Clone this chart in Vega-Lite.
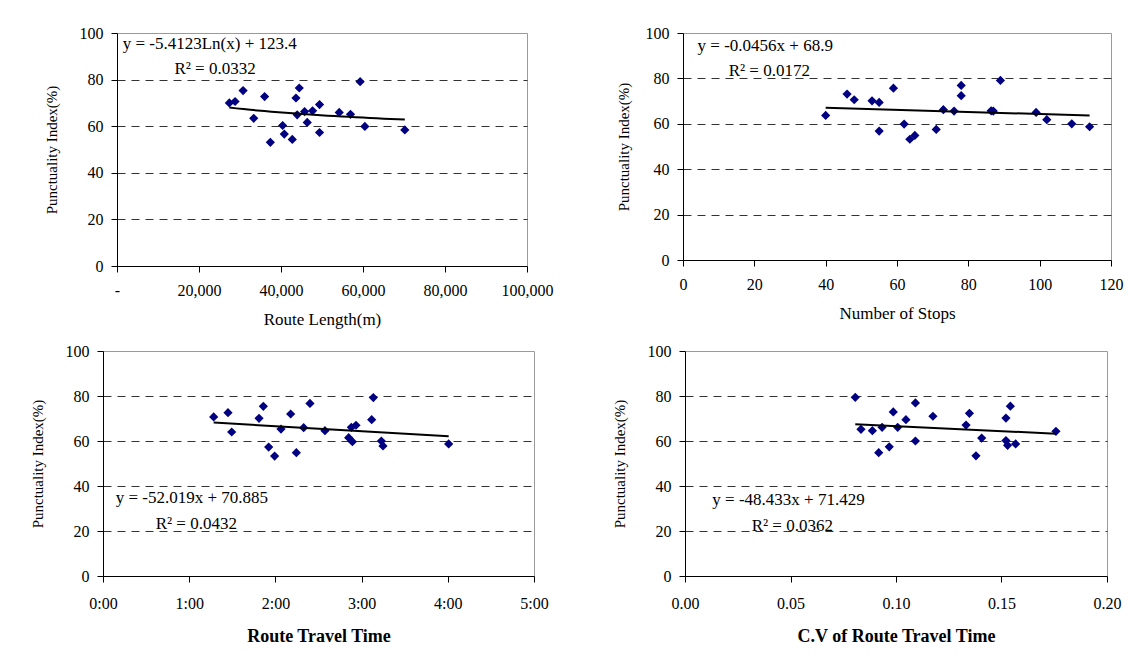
{
  "$schema": "https://vega.github.io/schema/vega-lite/v6.json",
  "padding": {"left": 28, "top": 24, "right": 0, "bottom": 0},
  "background": "white",
  "config": {
    "font": "Liberation Serif",
    "view": {"stroke": "#9a9a9a"},
    "axis": {
      "domainColor": "black", "tickColor": "black", "labelColor": "black", "titleColor": "black",
      "labelFont": "Liberation Serif", "titleFont": "Liberation Serif", "labelFontSize": 16,
      "tickSize": 6, "grid": false, "labelFlush": false, "labelOverlap": false
    },
    "text": {"font": "Liberation Serif", "fontSize": 17, "align": "left", "baseline": "middle", "color": "black"}
  },
  "datasets": {
    "length": [
      {"length": 27400, "pi": 70.0}, {"length": 28800, "pi": 70.6}, {"length": 30750, "pi": 75.3},
      {"length": 33350, "pi": 63.4}, {"length": 36000, "pi": 72.7}, {"length": 37400, "pi": 53.1},
      {"length": 40400, "pi": 60.3}, {"length": 40800, "pi": 56.6}, {"length": 42750, "pi": 54.3},
      {"length": 43650, "pi": 72.1}, {"length": 44450, "pi": 76.4}, {"length": 43950, "pi": 64.9},
      {"length": 45750, "pi": 66.3}, {"length": 46400, "pi": 61.6}, {"length": 47700, "pi": 66.6},
      {"length": 49400, "pi": 69.3}, {"length": 49400, "pi": 57.3}, {"length": 54200, "pi": 65.9},
      {"length": 56950, "pi": 65.1}, {"length": 59300, "pi": 79.1}, {"length": 60450, "pi": 59.9},
      {"length": 70200, "pi": 58.4}
    ],
    "stops": [
      {"stops": 40, "pi": 63.7}, {"stops": 46, "pi": 73.1}, {"stops": 48, "pi": 70.6},
      {"stops": 53, "pi": 70.1}, {"stops": 55, "pi": 69.4}, {"stops": 55, "pi": 56.8},
      {"stops": 59, "pi": 75.7}, {"stops": 62, "pi": 59.9}, {"stops": 63.6, "pi": 53.2},
      {"stops": 65, "pi": 54.9}, {"stops": 71, "pi": 57.5}, {"stops": 73, "pi": 66.2},
      {"stops": 76, "pi": 65.6}, {"stops": 78, "pi": 76.9}, {"stops": 78, "pi": 72.4},
      {"stops": 86.4, "pi": 65.7}, {"stops": 87, "pi": 65.6}, {"stops": 89, "pi": 79.1},
      {"stops": 99, "pi": 65.0}, {"stops": 102, "pi": 61.8}, {"stops": 109, "pi": 60.0},
      {"stops": 114, "pi": 58.7}
    ],
    "time": [
      {"hours": 1.284, "pi": 70.7}, {"hours": 1.450, "pi": 72.6}, {"hours": 1.493, "pi": 64.0},
      {"hours": 1.810, "pi": 70.1}, {"hours": 1.860, "pi": 75.4}, {"hours": 1.922, "pi": 57.3},
      {"hours": 1.991, "pi": 53.3}, {"hours": 2.065, "pi": 65.3}, {"hours": 2.177, "pi": 72.0},
      {"hours": 2.243, "pi": 54.8}, {"hours": 2.328, "pi": 65.9}, {"hours": 2.401, "pi": 76.7},
      {"hours": 2.575, "pi": 64.6}, {"hours": 2.850, "pi": 61.5}, {"hours": 2.893, "pi": 59.7},
      {"hours": 2.881, "pi": 66.1}, {"hours": 2.935, "pi": 67.0}, {"hours": 3.117, "pi": 69.5},
      {"hours": 3.136, "pi": 79.3}, {"hours": 3.229, "pi": 60.0}, {"hours": 3.248, "pi": 57.8},
      {"hours": 4.010, "pi": 58.7}
    ],
    "cv": [
      {"cv": 0.0807, "pi": 79.4}, {"cv": 0.0834, "pi": 65.2}, {"cv": 0.0888, "pi": 64.6},
      {"cv": 0.0934, "pi": 66.1}, {"cv": 0.0918, "pi": 54.8}, {"cv": 0.0968, "pi": 57.4},
      {"cv": 0.0987, "pi": 72.9}, {"cv": 0.1008, "pi": 66.1}, {"cv": 0.1047, "pi": 69.5},
      {"cv": 0.1092, "pi": 76.9}, {"cv": 0.1092, "pi": 60.0}, {"cv": 0.1175, "pi": 71.0},
      {"cv": 0.1332, "pi": 67.1}, {"cv": 0.1348, "pi": 72.3}, {"cv": 0.1379, "pi": 53.4},
      {"cv": 0.1406, "pi": 61.3}, {"cv": 0.1521, "pi": 70.2}, {"cv": 0.1542, "pi": 75.5},
      {"cv": 0.1521, "pi": 60.2}, {"cv": 0.1529, "pi": 58.1}, {"cv": 0.1567, "pi": 58.7},
      {"cv": 0.1758, "pi": 64.3}
    ],
    "eq": [
      {"e1": "y = -5.4123Ln(x) + 123.4", "r1": "R² = 0.0332",
       "e2": "y = -0.0456x + 68.9", "r2": "R² = 0.0172",
       "e3": "y = -52.019x + 70.885", "r3": "R² = 0.0432",
       "e4": "y = -48.433x + 71.429", "r4": "R² = 0.0362"}
    ]
  },
  "columns": 1,
  "align": "none",
  "spacing": {"row": 14, "column": 20},
  "concat": [
    {
      "hconcat": [
        {
          "hconcat": [
            {"width": 15, "height": 10, "view": {"stroke": null}, "data": {"values": []}, "mark": "point", "encoding": {}},
            {
              "width": 410, "height": 233,
              "layer": [
                {
                  "data": {"name": "length"},
                  "mark": {"type": "point", "shape": "diamond", "filled": true, "color": "#000080", "size": 85, "opacity": 1},
                  "encoding": {
                    "x": {"field": "length", "type": "quantitative", "scale": {"domain": [0, 100000], "nice": false},
                      "axis": {"title": "Route Length(m)", "titleFontSize": 17, "titleFontWeight": "normal", "values": [0, 20000, 40000, 60000, 80000, 100000],
                        "labelExpr": "datum.value == 0 ? '-' : format(datum.value, ',')", "labelPadding": 10, "titlePadding": 13}},
                    "y": {"field": "pi", "type": "quantitative", "scale": {"domain": [0, 100], "nice": false},
                      "axis": {"title": "Punctuality Index(%)", "titleFontSize": 15, "titleFontWeight": "normal", "values": [0, 20, 40, 60, 80, 100],
                        "labelPadding": 8, "titlePadding": 20, "grid": true, "gridDash": [8, 6], "gridColor": "#333",
                        "gridOpacity": {"condition": {"test": "datum.value == 0 || datum.value == 100", "value": 0}, "value": 1}}}
                  }
                },
                {
                  "data": {"name": "length"},
                  "transform": [{"regression": "pi", "on": "length", "method": "log"}],
                  "mark": {"type": "line", "color": "black", "strokeWidth": 2},
                  "encoding": {"x": {"field": "length", "type": "quantitative"}, "y": {"field": "pi", "type": "quantitative"}}
                },
                {
                  "data": {"name": "eq"},
                  "mark": {"type": "text"},
                  "encoding": {"x": {"datum": 1400}, "y": {"datum": 95.2}, "text": {"field": "e1"}}
                },
                {
                  "data": {"name": "eq"},
                  "mark": {"type": "text"},
                  "encoding": {"x": {"datum": 14000}, "y": {"datum": 84.7}, "text": {"field": "r1"}}
                }
              ]
            }
          ],
          "spacing": 0
        },
        {
          "width": 428, "height": 227,
          "layer": [
            {
              "data": {"name": "stops"},
              "mark": {"type": "point", "shape": "diamond", "filled": true, "color": "#000080", "size": 85, "opacity": 1},
              "encoding": {
                "x": {"field": "stops", "type": "quantitative", "scale": {"domain": [0, 120], "nice": false},
                  "axis": {"title": "Number of Stops", "titleFontSize": 17, "titleFontWeight": "normal", "values": [0, 20, 40, 60, 80, 100, 120],
                    "labelPadding": 10, "titlePadding": 13}},
                "y": {"field": "pi", "type": "quantitative", "scale": {"domain": [0, 100], "nice": false},
                  "axis": {"title": "Punctuality Index(%)", "titleFontSize": 15, "titleFontWeight": "normal", "values": [0, 20, 40, 60, 80, 100],
                    "labelPadding": 8, "titlePadding": 14, "grid": true, "gridDash": [8, 6], "gridColor": "#333",
                    "gridOpacity": {"condition": {"test": "datum.value == 0 || datum.value == 100", "value": 0}, "value": 1}}}
              }
            },
            {
              "data": {"name": "stops"},
              "transform": [{"regression": "pi", "on": "stops", "method": "linear"}],
              "mark": {"type": "line", "color": "black", "strokeWidth": 2},
              "encoding": {"x": {"field": "stops", "type": "quantitative"}, "y": {"field": "pi", "type": "quantitative"}}
            },
            {
              "data": {"name": "eq"},
              "mark": {"type": "text"},
              "encoding": {"x": {"datum": 4.1}, "y": {"datum": 94.3}, "text": {"field": "e2"}}
            },
            {
              "data": {"name": "eq"},
              "mark": {"type": "text"},
              "encoding": {"x": {"datum": 12.8}, "y": {"datum": 83.2}, "text": {"field": "r2"}}
            }
          ]
        }
      ],
      "spacing": 61
    },
    {
      "hconcat": [
        {
          "hconcat": [
            {"width": 1, "height": 10, "view": {"stroke": null}, "data": {"values": []}, "mark": "point", "encoding": {}},
            {
              "width": 431, "height": 225,
              "layer": [
                {
                  "data": {"name": "time"},
                  "mark": {"type": "point", "shape": "diamond", "filled": true, "color": "#000080", "size": 85, "opacity": 1},
                  "encoding": {
                    "x": {"field": "hours", "type": "quantitative", "scale": {"domain": [0, 5], "nice": false},
                      "axis": {"title": "Route Travel Time", "titleFontSize": 18, "titleFontWeight": "bold", "values": [0, 1, 2, 3, 4, 5],
                        "labelExpr": "floor(datum.value) + ':00'", "labelPadding": 13, "titlePadding": 16}},
                    "y": {"field": "pi", "type": "quantitative", "scale": {"domain": [0, 100], "nice": false},
                      "axis": {"title": "Punctuality Index(%)", "titleFontSize": 15, "titleFontWeight": "normal", "values": [0, 20, 40, 60, 80, 100],
                        "labelPadding": 8, "titlePadding": 20, "grid": true, "gridDash": [8, 6], "gridColor": "#333",
                        "gridOpacity": {"condition": {"test": "datum.value == 0 || datum.value == 100", "value": 0}, "value": 1}}}
                  }
                },
                {
                  "data": {"name": "time"},
                  "transform": [{"regression": "pi", "on": "hours", "method": "linear"}],
                  "mark": {"type": "line", "color": "black", "strokeWidth": 2},
                  "encoding": {"x": {"field": "hours", "type": "quantitative"}, "y": {"field": "pi", "type": "quantitative"}}
                },
                {
                  "data": {"name": "eq"},
                  "mark": {"type": "text"},
                  "encoding": {"x": {"datum": 0.147}, "y": {"datum": 34.8}, "text": {"field": "e3"}}
                },
                {
                  "data": {"name": "eq"},
                  "mark": {"type": "text"},
                  "encoding": {"x": {"datum": 0.611}, "y": {"datum": 23.0}, "text": {"field": "r3"}}
                }
              ]
            }
          ],
          "spacing": 0
        },
        {
          "width": 422, "height": 225,
          "layer": [
            {
              "data": {"name": "cv"},
              "mark": {"type": "point", "shape": "diamond", "filled": true, "color": "#000080", "size": 85, "opacity": 1},
              "encoding": {
                "x": {"field": "cv", "type": "quantitative", "scale": {"domain": [0, 0.2], "nice": false},
                  "axis": {"title": "C.V of Route Travel Time", "titleFontSize": 18, "titleFontWeight": "bold", "values": [0, 0.05, 0.1, 0.15, 0.2],
                    "format": ".2f", "labelPadding": 13, "titlePadding": 16}},
                "y": {"field": "pi", "type": "quantitative", "scale": {"domain": [0, 100], "nice": false},
                  "axis": {"title": "Punctuality Index(%)", "titleFontSize": 15, "titleFontWeight": "normal", "values": [0, 20, 40, 60, 80, 100],
                    "labelPadding": 8, "titlePadding": 20, "grid": true, "gridDash": [8, 6], "gridColor": "#333",
                    "gridOpacity": {"condition": {"test": "datum.value == 0 || datum.value == 100", "value": 0}, "value": 1}}}
              }
            },
            {
              "data": {"name": "cv"},
              "transform": [{"regression": "pi", "on": "cv", "method": "linear"}],
              "mark": {"type": "line", "color": "black", "strokeWidth": 2},
              "encoding": {"x": {"field": "cv", "type": "quantitative"}, "y": {"field": "pi", "type": "quantitative"}}
            },
            {
              "data": {"name": "eq"},
              "mark": {"type": "text"},
              "encoding": {"x": {"datum": 0.01294}, "y": {"datum": 33.7}, "text": {"field": "e4"}}
            },
            {
              "data": {"name": "eq"},
              "mark": {"type": "text"},
              "encoding": {"x": {"datum": 0.0316}, "y": {"datum": 22.2}, "text": {"field": "r4"}}
            }
          ]
        }
      ],
      "spacing": 62
    }
  ]
}
